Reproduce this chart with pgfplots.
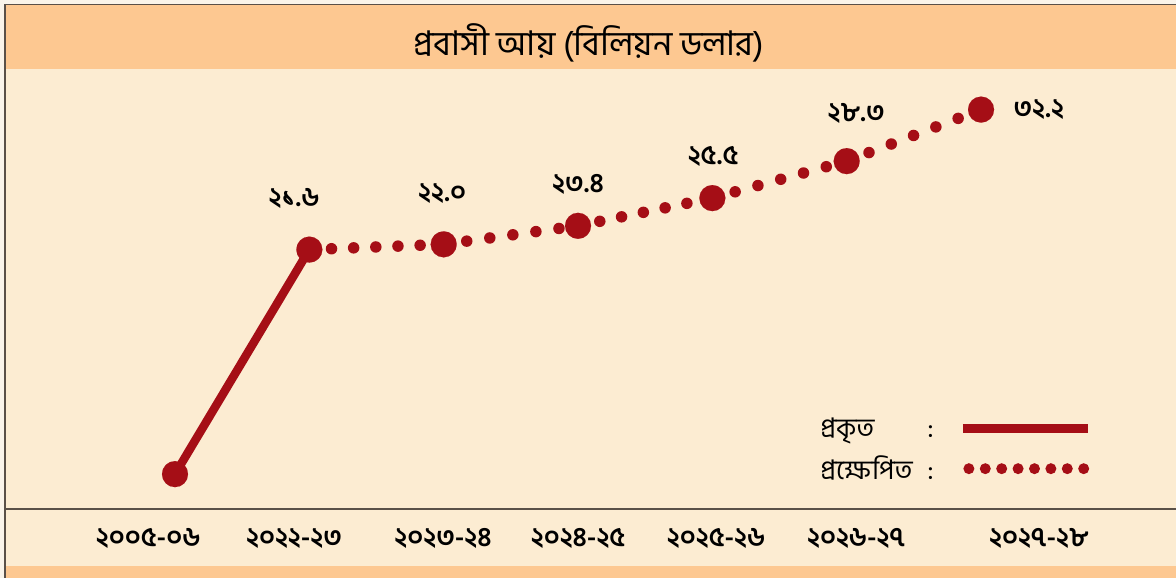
\documentclass[border=0pt]{standalone}
\usepackage{fontspec}
\usepackage{pgfplots}
\pgfplotsset{compat=1.18}
\newfontfamily\bn[Script=Bengali]{Hind Siliguri}
\definecolor{bdred}{RGB}{165,14,22}
\definecolor{band}{RGB}{253,200,145}
\definecolor{paper}{RGB}{252,236,210}
\definecolor{outerbg}{RGB}{250,244,234}
\definecolor{frame}{RGB}{90,80,72}
\begin{document}
\begin{tikzpicture}[x=1pt,y=1pt]
\fill[outerbg] (0,0) rectangle (1176,578);
\fill[paper] (5,0) rectangle (1176,573);
\fill[band] (5,509) rectangle (1176,573);
\fill[band] (5,0) rectangle (1176,12);
\draw[line width=1.5pt, frame] (5,573.5)--(1176,573.5);
\draw[line width=1.5pt, frame] (5,0)--(5,574);
\draw[line width=1.2pt, frame] (5,69)--(1176,69);
\node[font=\bn\fontsize{34}{38}\selectfont] at (589,535) {প্রবাসী আয় (বিলিয়ন ডলার)};
\begin{axis}[
  at={(0,50.5)}, anchor=south west, scale only axis,
  width=1176pt, height=440pt,
  xmin=-1.3028, xmax=7.4516, ymin=1.785, ymax=35.10,
  clip=false, axis line style={draw=none}, major tick length=0pt,
  ytick=\empty,
  xtick={-0.2,0.886,1.995,3.0,4.027,5.07,6.43},
  xticklabels={২০০৫-০৬,২০২২-২৩,২০২৩-২৪,২০২৪-২৫,২০২৫-২৬,২০২৬-২৭,২০২৭-২৮},
  xticklabel style={font=\bn\bfseries\fontsize{27}{30}\selectfont, anchor=center, yshift=-27pt},
  legend style={at={(axis cs:4.787,9.02)}, anchor=north west, draw=none, fill=none,
    inner sep=0pt, row sep=13pt, column sep=23pt,
    font=\bn\fontsize{27}{30}\selectfont},
  legend cell align=left, legend plot pos=right,
]
% actual
\addplot[bdred, line width=8.5pt, forget plot] coordinates {(0,4.6) (1,21.6)};
% projected, dotted segments
\addplot[bdred, line width=11.5pt, line cap=round, dash pattern=on 0pt off 22.17pt, forget plot] coordinates {(1,21.6) (2,22.0)};
\addplot[bdred, line width=11.5pt, line cap=round, dash pattern=on 0pt off 23.27pt, forget plot] coordinates {(2,22.0) (3,23.4)};
\addplot[bdred, line width=11.5pt, line cap=round, dash pattern=on 0pt off 22.23pt, forget plot] coordinates {(3,23.4) (4,25.5)};
\addplot[bdred, line width=11.5pt, line cap=round, dash pattern=on 0pt off 23.63pt, forget plot] coordinates {(4,25.5) (5,28.3)};
\addplot[bdred, line width=11.5pt, line cap=round, dash pattern=on 0pt off 23.87pt, forget plot] coordinates {(5,28.3) (6,32.2)};
% markers
\addplot[bdred, only marks, mark=*, mark size=13pt, mark options={solid, draw=bdred, fill=bdred, line width=0.1pt}, forget plot]
  coordinates {(0,4.6) (1,21.6) (2,22.0) (3,23.4) (4,25.5) (5,28.3) (6,32.2)};
% value labels
\begin{scope}[every node/.style={font=\bn\bfseries\fontsize{27}{30}\selectfont}]
\node at (axis cs:0.886,25.49) {২১.৬};
\node at (axis cs:1.988,25.87) {২২.০};
\node at (axis cs:3.0,26.55) {২৩.৪};
\node at (axis cs:4.005,28.67) {২৫.৫};
\node at (axis cs:5.07,31.93) {২৮.৩};
\node at (axis cs:6.43,32.23) {৩২.২};
\end{scope}
\addlegendimage{legend image code/.code={\draw[bdred, line width=8.5pt] (0pt,0pt) -- (125pt,0pt);}}
\addlegendentry{\makebox[107pt][l]{প্রকৃত}:}
\addlegendimage{legend image code/.code={\draw[bdred, line width=11pt, line cap=round, dash pattern=on 0pt off 16.4pt] (6pt,0pt) -- (121pt,0pt);}}
\addlegendentry{\makebox[107pt][l]{প্রক্ষেপিত}:}
\end{axis}
\pgfresetboundingbox
\useasboundingbox (0,0) rectangle (1176,578);
\end{tikzpicture}
\end{document}
